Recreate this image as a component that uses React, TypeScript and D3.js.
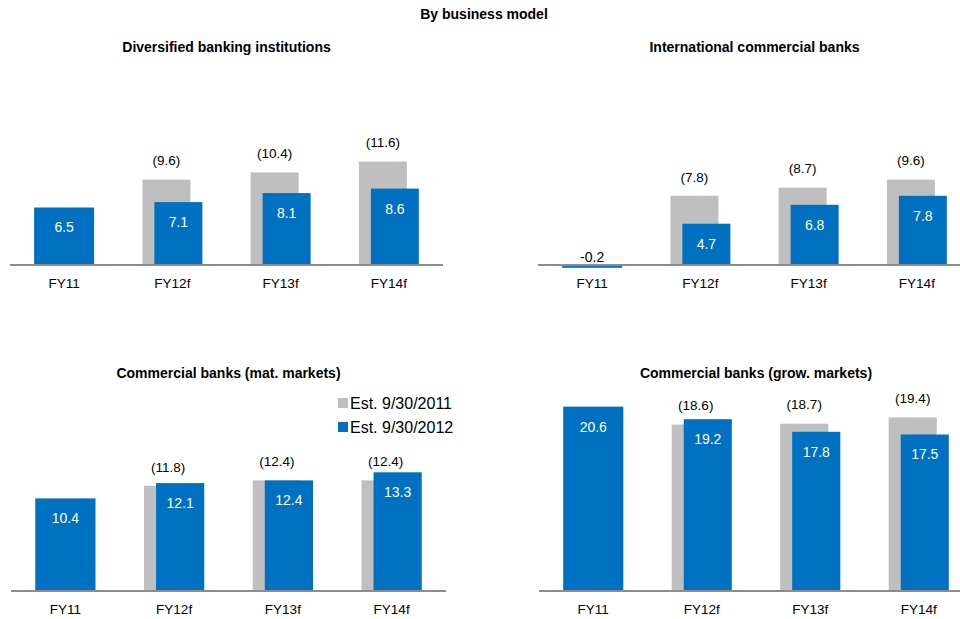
import React from "react"
import * as d3 from "d3"

const categories = ["FY11", "FY12f", "FY13f", "FY14f"]

const panelTitles = [
  "Diversified banking institutions",
  "International commercial banks",
  "Commercial banks (mat. markets)",
  "Commercial banks (grow. markets)",
]

// estimate as of 9/30/2011 (grey) and 9/30/2012 (blue)
const diversified2011 = [6.5, 9.6, 10.4, 11.6]
const diversified2012 = [6.5, 7.1, 8.1, 8.6]
const international2011 = [-0.2, 7.8, 8.7, 9.6]
const international2012 = [-0.2, 4.7, 6.8, 7.8]
const matMarkets2011 = [10.4, 11.8, 12.4, 12.4]
const matMarkets2012 = [10.4, 12.1, 12.4, 13.3]
const growMarkets2011 = [20.6, 18.6, 18.7, 19.4]
const growMarkets2012 = [20.6, 19.2, 17.8, 17.5]

const legendLabels = ["Est. 9/30/2011", "Est. 9/30/2012"]

const BLUE = "#0070C0"
const GREY = "#BFBFBF"
const FONT = "'Liberation Sans', Arial, sans-serif"

const width = 960
const height = 619

interface PanelProps {
  title: string
  old: number[]
  cur: number[]
  x0: number
  x1: number
  axisEnd: number
  base: number
  titleY: number
}

const Panel: React.FC<PanelProps> = ({ title, old, cur, x0, x1, axisEnd, base, titleY }) => {
  const x = d3.scaleBand<string>()
    .domain(categories)
    .range([x0, x1])
    .paddingInner(0.446)
    .paddingOuter(0.223)
  const y = d3.scaleLinear().domain([0, 10]).range([base, base - 90])

  const bw = x.bandwidth()
  const shift = bw * 0.2
  const w = bw - shift

  const blueBar = (c: string, i: number) => {
    const gx = x(c) as number
    const actual = i === 0
    const v = cur[i]
    return (
      <rect
        key={"b" + c}
        x={actual ? gx : gx + shift}
        y={y(Math.max(0, v))}
        width={actual ? bw : w}
        height={Math.abs(y(v) - y(0))}
        fill={BLUE}
      />
    )
  }

  return (
    <g>
      <text x={(x0 + x1) / 2} y={titleY} textAnchor="middle" fontWeight="bold" fontSize={14}>{title}</text>
      {categories.map((c, i) => {
        const gx = x(c) as number
        const actual = i === 0
        const vOld = old[i]
        const vCur = cur[i]
        const neg = vCur < 0
        return (
          <g key={c}>
            {!actual && (
              <>
                <rect x={gx} y={y(Math.max(0, vOld))} width={w} height={Math.abs(y(vOld) - y(0))} fill={GREY} />
                <text x={gx + w / 2} y={y(vOld) - 19} dy="0.35em" textAnchor="middle" fontSize={13.5}>({vOld.toFixed(1)})</text>
              </>
            )}
            {!neg && blueBar(c, i)}
            {neg ? (
              <text x={gx + bw / 2} y={y(0) - 9} dy="0.35em" textAnchor="middle" fontSize={14}>{vCur.toFixed(1)}</text>
            ) : (
              <text x={actual ? gx + bw / 2 : gx + shift + w / 2} y={y(vCur) + 20} dy="0.35em" textAnchor="middle" fontSize={14} fill="#fff">{vCur.toFixed(1)}</text>
            )}
            <text x={gx + bw / 2} y={base + 17} dy="0.35em" textAnchor="middle" fontSize={13.5}>{c}</text>
          </g>
        )
      })}
      <line x1={x0} x2={axisEnd} y1={base - 1} y2={base - 1} stroke="#8c8c8c" strokeWidth={2} />
      {categories.map((c, i) => (cur[i] < 0 ? blueBar(c, i) : null))}
    </g>
  )
}

export default function App() {
  return (
    <svg width={width} height={height} style={{ position: "absolute", left: 0, top: 0, fontFamily: FONT }}>
      <rect width={width} height={height} fill="#fff" />
      <text x={484} y={14} dy="0.35em" textAnchor="middle" fontWeight="bold" fontSize={14}>By business model</text>
      <Panel title={panelTitles[0]} old={diversified2011} cur={diversified2012} x0={10} x1={443} axisEnd={443} base={266} titleY={52} />
      <Panel title={panelTitles[1]} old={international2011} cur={international2012} x0={538} x1={971} axisEnd={960} base={266} titleY={52} />
      <Panel title={panelTitles[2]} old={matMarkets2011} cur={matMarkets2012} x0={11} x1={446} axisEnd={446} base={592} titleY={378} />
      <Panel title={panelTitles[3]} old={growMarkets2011} cur={growMarkets2012} x0={539} x1={973} axisEnd={960} base={592} titleY={378} />
      {legendLabels.map((l, i) => (
        <g key={l} transform={`translate(338,${398 + i * 24})`}>
          <rect width={10} height={10} fill={i === 0 ? GREY : BLUE} />
          <text x={12} y={5} dy="0.35em" fontSize={16}>{l}</text>
        </g>
      ))}
    </svg>
  )
}
